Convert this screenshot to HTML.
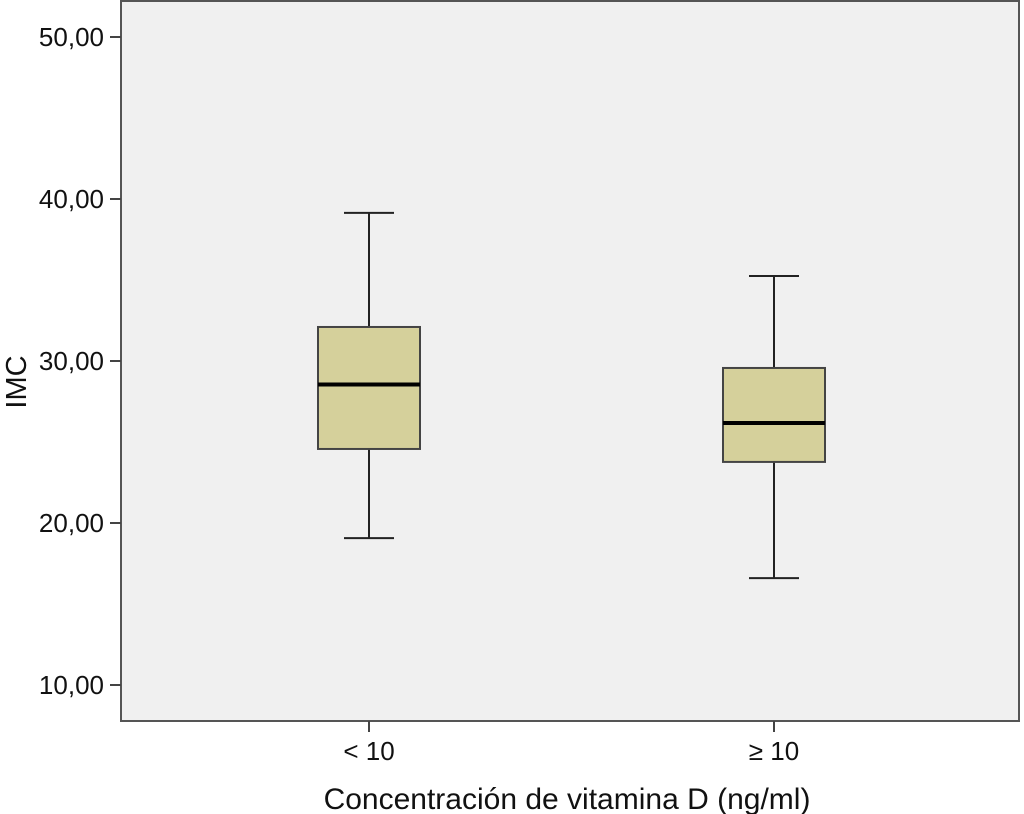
<!DOCTYPE html>
<html><head><meta charset="utf-8"><style>
html,body{margin:0;padding:0;background:#fff;}
svg{display:block;font-family:"Liberation Sans",sans-serif;}
</style></head><body>
<svg id="chart" width="1024" height="814" viewBox="0 0 1024 814" xmlns="http://www.w3.org/2000/svg">
<rect x="121" y="1" width="898" height="720" fill="#f0f0f0" stroke="#555" stroke-width="2"/>
<g id="yaxis"></g>
<g id="xaxis"></g>
<g id="boxes"></g>
<text x="0" y="0" transform="translate(26,382) rotate(-90)" text-anchor="middle" font-size="29" fill="#111">IMC</text>
<text x="567" y="809" text-anchor="middle" font-size="30" fill="#111">Concentración de vitamina D (ng/ml)</text>
</svg>
<script>
const categories = ["< 10", "≥ 10"];
const whiskerLow = [19.07, 16.6];
const q1 = [24.57, 23.77];
const median = [28.55, 26.17];
const q3 = [32.1, 29.57];
const whiskerHigh = [39.14, 35.25];
const yTicks = [10, 20, 30, 40, 50];
const yTickLabels = ["10,00", "20,00", "30,00", "40,00", "50,00"];

const NS = "http://www.w3.org/2000/svg";
function y(v){ return 685 - (v - 10) * 16.2; }
function x(i){ return 369 + i * 405; }
function mk(tag, attrs, parent){
  const e = document.createElementNS(NS, tag);
  for (const k in attrs) e.setAttribute(k, attrs[k]);
  parent.appendChild(e); return e;
}
const ya = document.getElementById('yaxis');
yTicks.forEach((t, i) => {
  const l = mk('line', {x1:110, x2:121, y1:y(t), y2:y(t), stroke:'#444', 'stroke-width':2}, ya);
  
  
  const tx = mk('text', {x:104, y:y(t)+9, 'text-anchor':'end', 'font-size':26, fill:'#111'}, ya);
  tx.textContent = yTickLabels[i];
  
  
});
const xa = document.getElementById('xaxis');
categories.forEach((c, i) => {
  const l = mk('line', {x1:x(i), x2:x(i), y1:721, y2:732, stroke:'#444', 'stroke-width':2}, xa);
  
  
  const tx = mk('text', {x:x(i), y:760, 'text-anchor':'middle', 'font-size':26, fill:'#111'}, xa);
  tx.textContent = c;
  
  
});
const bx = document.getElementById('boxes');
categories.forEach((c, i) => {
  const cx = x(i), hw = 51, cw = 25;
  const g = mk('g', {}, bx);
  
  
  const w1 = mk('line', {x1:cx, x2:cx, y1:y(whiskerHigh[i]), y2:y(q3[i]), stroke:'#222', 'stroke-width':2}, g);
  
  
  const w2 = mk('line', {x1:cx, x2:cx, y1:y(q1[i]), y2:y(whiskerLow[i]), stroke:'#222', 'stroke-width':2}, g);
  
  
  const c1 = mk('line', {x1:cx-cw, x2:cx+cw, y1:y(whiskerHigh[i]), y2:y(whiskerHigh[i]), stroke:'#222', 'stroke-width':2}, g);
  
  
  const c2 = mk('line', {x1:cx-cw, x2:cx+cw, y1:y(whiskerLow[i]), y2:y(whiskerLow[i]), stroke:'#222', 'stroke-width':2}, g);
  
  
  const r = mk('rect', {x:cx-hw, y:y(q3[i]), width:hw*2, height:y(q1[i])-y(q3[i]), fill:'#d5d09b', stroke:'#444', 'stroke-width':2}, g);
  
  
  const m = mk('line', {x1:cx-hw, x2:cx+hw, y1:y(median[i]), y2:y(median[i]), stroke:'#000', 'stroke-width':4}, g);
  
  
});
</script>
</body></html>
